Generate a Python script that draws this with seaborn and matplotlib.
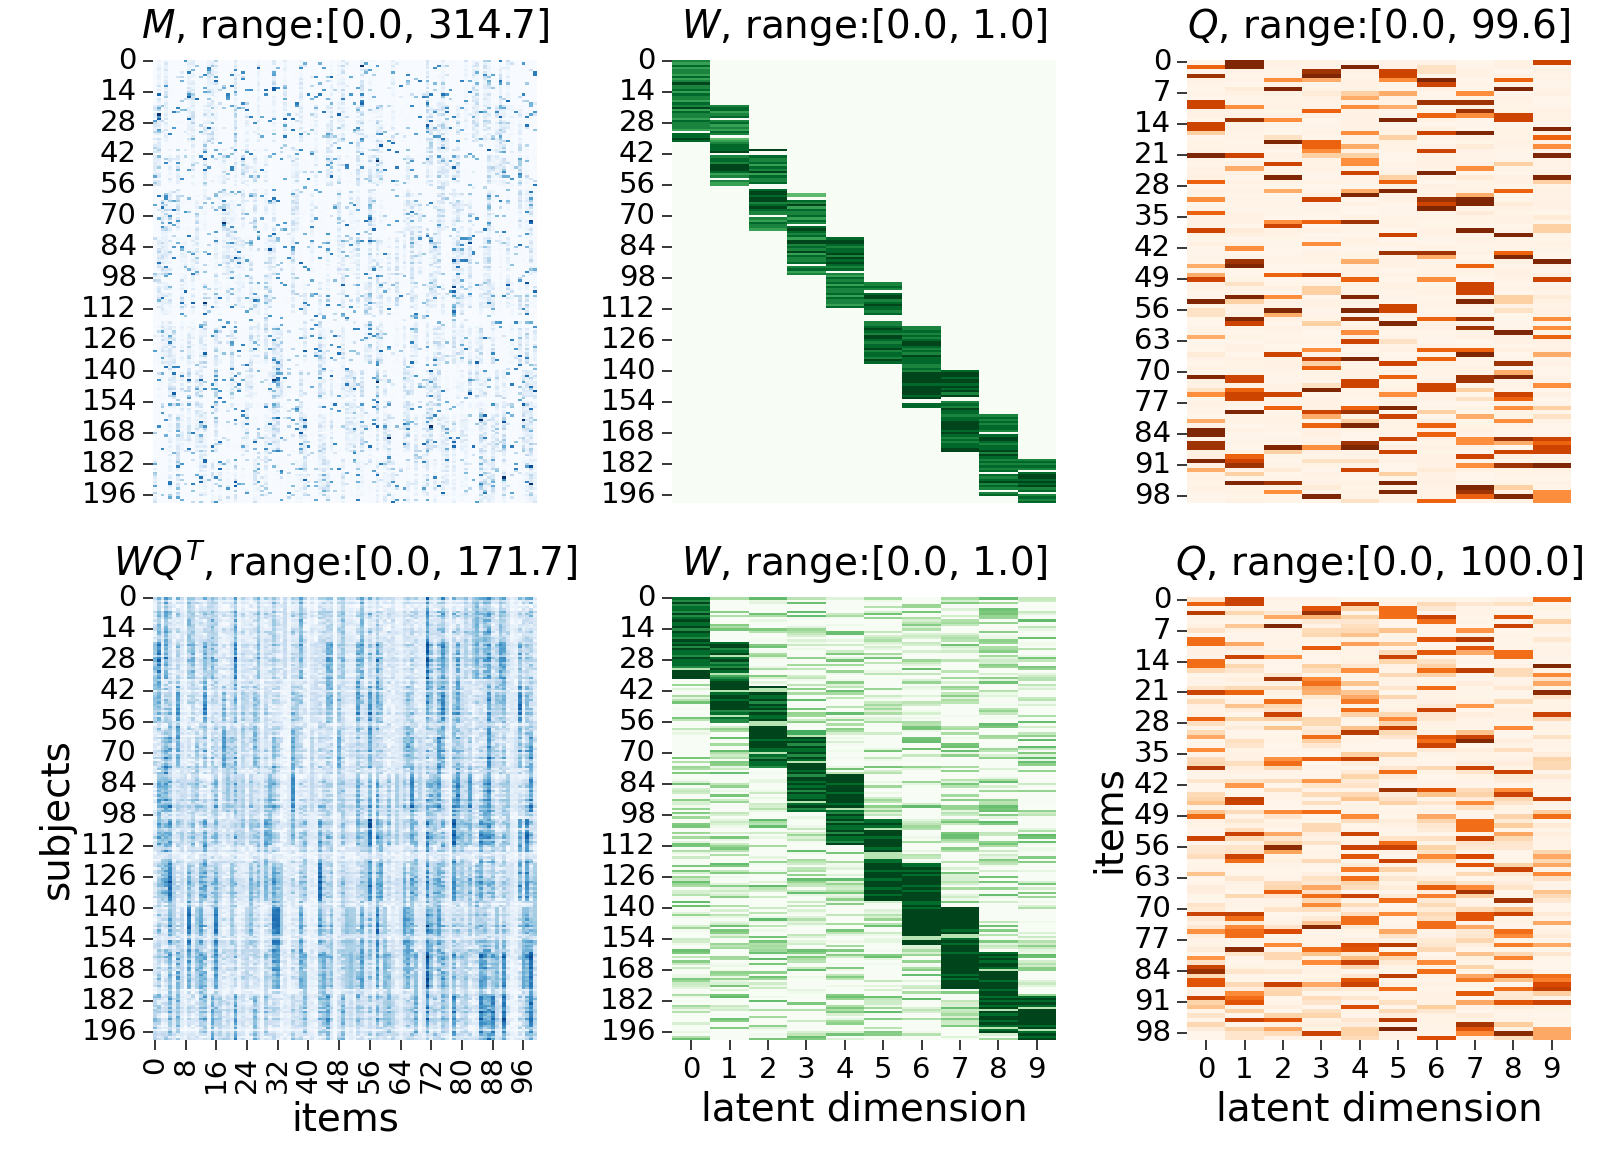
import numpy as np
import matplotlib
matplotlib.use("Agg")
import matplotlib.pyplot as plt
import seaborn as sns

n_subjects = 200
n_items = 100
n_latent = 10

# ranges printed in the panel titles
M_MAX = 314.7
WQ_MAX = 171.7
Q_TRUE_MAX = 99.6
Q_EST_MAX = 100.0

# Q (items x latent dim): stripes as (item, level 1..9)
q_col0 = [(1, 6), (3, 8), (9, 7), (10, 7), (14, 7), (15, 7), (16, 3), (21, 9), (27, 6), (31, 5), (34, 6), (38, 7),
          (46, 4), (48, 4), (49, 7), (54, 9), (56, 2), (57, 2), (62, 4), (66, 1), (71, 9), (74, 2), (75, 5), (81, 4),
          (83, 9), (84, 9), (86, 8), (87, 8), (90, 9), (92, 4)]
q_col1 = [(0, 9), (1, 9), (6, 1), (10, 5), (13, 8), (21, 7), (24, 4), (38, 1), (42, 5), (45, 8), (46, 9), (50, 2),
          (53, 9), (54, 3), (58, 9), (59, 7), (71, 7), (72, 7), (74, 6), (75, 7), (76, 7), (79, 9), (89, 6), (90, 7),
          (91, 8), (93, 3), (95, 9)]
q_col2 = [(4, 5), (6, 9), (13, 5), (17, 2), (18, 9), (23, 7), (26, 9), (29, 4), (36, 5), (37, 7), (48, 6), (53, 5),
          (56, 9), (57, 4), (66, 7), (75, 7), (78, 6), (87, 9), (88, 3), (92, 1), (95, 8), (97, 5)]
q_col3 = [(2, 8), (3, 9), (4, 4), (7, 1), (11, 6), (18, 6), (19, 6), (20, 5), (21, 3), (31, 7), (36, 6), (41, 5),
          (48, 7), (51, 3), (52, 3), (59, 3), (65, 5), (67, 7), (68, 3), (69, 6), (73, 2), (74, 9), (79, 7), (80, 4),
          (82, 6), (87, 5), (90, 2), (96, 1), (98, 9)]
q_col4 = [(1, 9), (7, 3), (8, 4), (10, 5), (16, 5), (19, 4), (21, 3), (22, 5), (23, 5), (25, 7), (29, 4), (30, 9),
          (36, 8), (45, 4), (49, 6), (53, 9), (56, 9), (58, 8), (61, 5), (63, 7), (67, 9), (72, 7), (73, 7), (78, 6),
          (79, 8), (81, 3), (82, 9), (86, 8), (87, 9), (90, 2), (92, 7), (99, 2)]
q_col5 = [(2, 7), (3, 7), (4, 5), (7, 4), (10, 4), (13, 9), (17, 3), (26, 3), (27, 6), (29, 9), (39, 7), (43, 8),
          (55, 7), (56, 7), (59, 9), (63, 2), (68, 7), (71, 6), (75, 5), (78, 9), (80, 7), (85, 7), (88, 7), (93, 3),
          (95, 9), (97, 9)]
q_col6 = [(1, 2), (2, 2), (4, 9), (5, 7), (9, 8), (12, 6), (16, 7), (20, 7), (25, 9), (31, 8), (32, 7), (33, 9),
          (43, 8), (44, 4), (49, 5), (58, 6), (65, 6), (67, 6), (73, 7), (74, 7), (79, 3), (82, 6), (84, 6), (92, 1),
          (99, 6)]
q_col7 = [(7, 5), (9, 8), (11, 8), (12, 5), (16, 9), (19, 1), (24, 5), (26, 1), (30, 4), (31, 9), (32, 9), (34, 1),
          (38, 9), (46, 6), (50, 7), (51, 7), (52, 7), (54, 9), (58, 8), (60, 8), (65, 6), (66, 9), (71, 8), (72, 8),
          (74, 3), (76, 2), (80, 4), (85, 5), (86, 5), (89, 7), (91, 5), (96, 9), (97, 8), (98, 6)]
q_col8 = [(4, 6), (6, 9), (12, 7), (13, 7), (23, 3), (29, 6), (32, 1), (39, 9), (43, 6), (44, 9), (53, 3), (54, 3),
          (56, 2), (61, 9), (68, 8), (70, 4), (71, 9), (75, 7), (76, 6), (78, 5), (81, 5), (85, 8), (86, 4), (88, 7),
          (91, 8), (96, 3), (98, 9)]
q_col9 = [(0, 7), (15, 9), (17, 6), (19, 5), (21, 9), (26, 9), (27, 3), (35, 1), (37, 3), (38, 3), (45, 9), (49, 7),
          (53, 1), (58, 5), (60, 5), (62, 6), (66, 4), (73, 5), (78, 3), (80, 2), (85, 7), (86, 6), (87, 7), (88, 7),
          (91, 9), (97, 5), (98, 5), (99, 5)]
q_columns = [q_col0, q_col1, q_col2, q_col3, q_col4, q_col5, q_col6, q_col7, q_col8, q_col9]
# fraction of the colour range for stripe levels 1..9
q_level_frac = [0.0, 0.08, 0.15, 0.25, 0.38, 0.5, 0.65, 0.78, 0.9, 1.0]

# W (subjects x latent dim): first subject of each band and its shades (digit/9, 0 = gap)
w_band_start = [0, 20, 40, 60, 80, 100, 120, 140, 160, 180]
w_band_shades = [
    "7686776867" "9778687768" "7968776877" "7608898",
    "7886780786" "7687056788" "8907887999" "8670766",
    "900" "8778687968778" "00" "899899789877" "0" "768776",
    "550" "87968778687" "0" "89878699787968778" "0" "7867",
    "899878897989878" "0" "7687868778687768",
    "7787" "0" "8997898878" "000" "7789879987889788798",
    "7787878998" "7879888778" "7999998999" "989" "00" "88",
    "899899898979" "00" "7879887889" "9998987878" "899",
    "78787887" "0" "89987889798787878" "0" "8789787" "0" "78",
    "78787" "0" "899898978" "0" "7878",
]

# ---- build matrices -------------------------------------------------------
Q_true = np.zeros((n_items, n_latent))
for k, col in enumerate(q_columns):
    for item, level in col:
        Q_true[item, k] = q_level_frac[level] * Q_TRUE_MAX

W_true = np.zeros((n_subjects, n_latent))
band = np.zeros_like(W_true, dtype=bool)
for k, (start, shades) in enumerate(zip(w_band_start, w_band_shades)):
    for i, ch in enumerate(shades):
        if start + i < n_subjects:
            W_true[start + i, k] = int(ch) / 9
            band[start + i, k] = True

# cell-level noise texture cannot be read off the picture; it is only
# approximated here so the panels get the same grainy look
rng = np.random.default_rng(3)
q_bg = rng.uniform(0, 4, Q_true.shape)
Q_top = np.where(Q_true > 0, Q_true, q_bg)

q_extra = np.where(rng.random(Q_true.shape) < 0.3, rng.uniform(5, 30, Q_true.shape), 0)
Q_est = Q_top + q_extra
Q_est = Q_est / Q_est.max() * Q_EST_MAX

w_off = np.where(rng.random(W_true.shape) < 0.55, rng.uniform(0, 0.55, W_true.shape), 0)
W_est = np.where(band, np.clip(W_true * 1.12 + 0.3 * (W_true == 0), 0, 1), w_off)

WQ = W_est @ Q_est.T
WQ = WQ - WQ.min()
WQ = WQ / WQ.max() * WQ_MAX

rate = W_true @ Q_top.T
spikes = np.where(rng.random(rate.shape) < 0.075, rng.uniform(30, 230, rate.shape), 0)
M = 0.45 * rate * rng.gamma(2.0, 0.5, rate.shape) + spikes
M = np.minimum(M, 310.0)
M = M / M.max() * M_MAX

# ---- figure ---------------------------------------------------------------
fig = plt.figure(figsize=(15.98, 11.56), dpi=100)
lefts = [0.0957, 0.4205, 0.7428]
width = 0.2403
bottoms = [0.5649, 0.1003]
height = 0.3830

TICK = 21
LABEL = 28
TITLE = 28

panels = [
    (M, "Blues", r"$M$", 0, 0),
    (W_true, "Greens", r"$W$", 0, 1),
    (Q_top, "Oranges", r"$Q$", 0, 2),
    (WQ, "Blues", r"$WQ^T$", 1, 0),
    (W_est, "Greens", r"$W$", 1, 1),
    (Q_est, "Oranges", r"$Q$", 1, 2),
]

for data, cmap, name, r, c in panels:
    ax = fig.add_axes([lefts[c], bottoms[r], width, height])
    nrows, ncols = data.shape
    ytl = 14 if nrows == n_subjects else 7
    if r == 0:
        xtl = False
    else:
        xtl = 8 if ncols == n_items else 1
    sns.heatmap(data, cmap=cmap, cbar=False, ax=ax, xticklabels=xtl, yticklabels=ytl)
    ax.set_title(f"{name}, range:[{data.min():.1f}, {data.max():.1f}]", fontsize=TITLE, pad=16)
    ax.tick_params(axis="both", labelsize=TICK, length=7, width=1.1, pad=4.5)
    plt.setp(ax.get_yticklabels(), rotation=0)
    if r == 1:
        plt.setp(ax.get_xticklabels(), rotation=90 if ncols == n_items else 0)
        ax.set_xlabel("items" if c == 0 else "latent dimension", fontsize=LABEL, labelpad=5)
        if c == 0:
            ax.set_ylabel("subjects", fontsize=LABEL)
        elif c == 2:
            ax.set_ylabel("items", fontsize=LABEL)

fig.savefig("out.png", dpi=100)
